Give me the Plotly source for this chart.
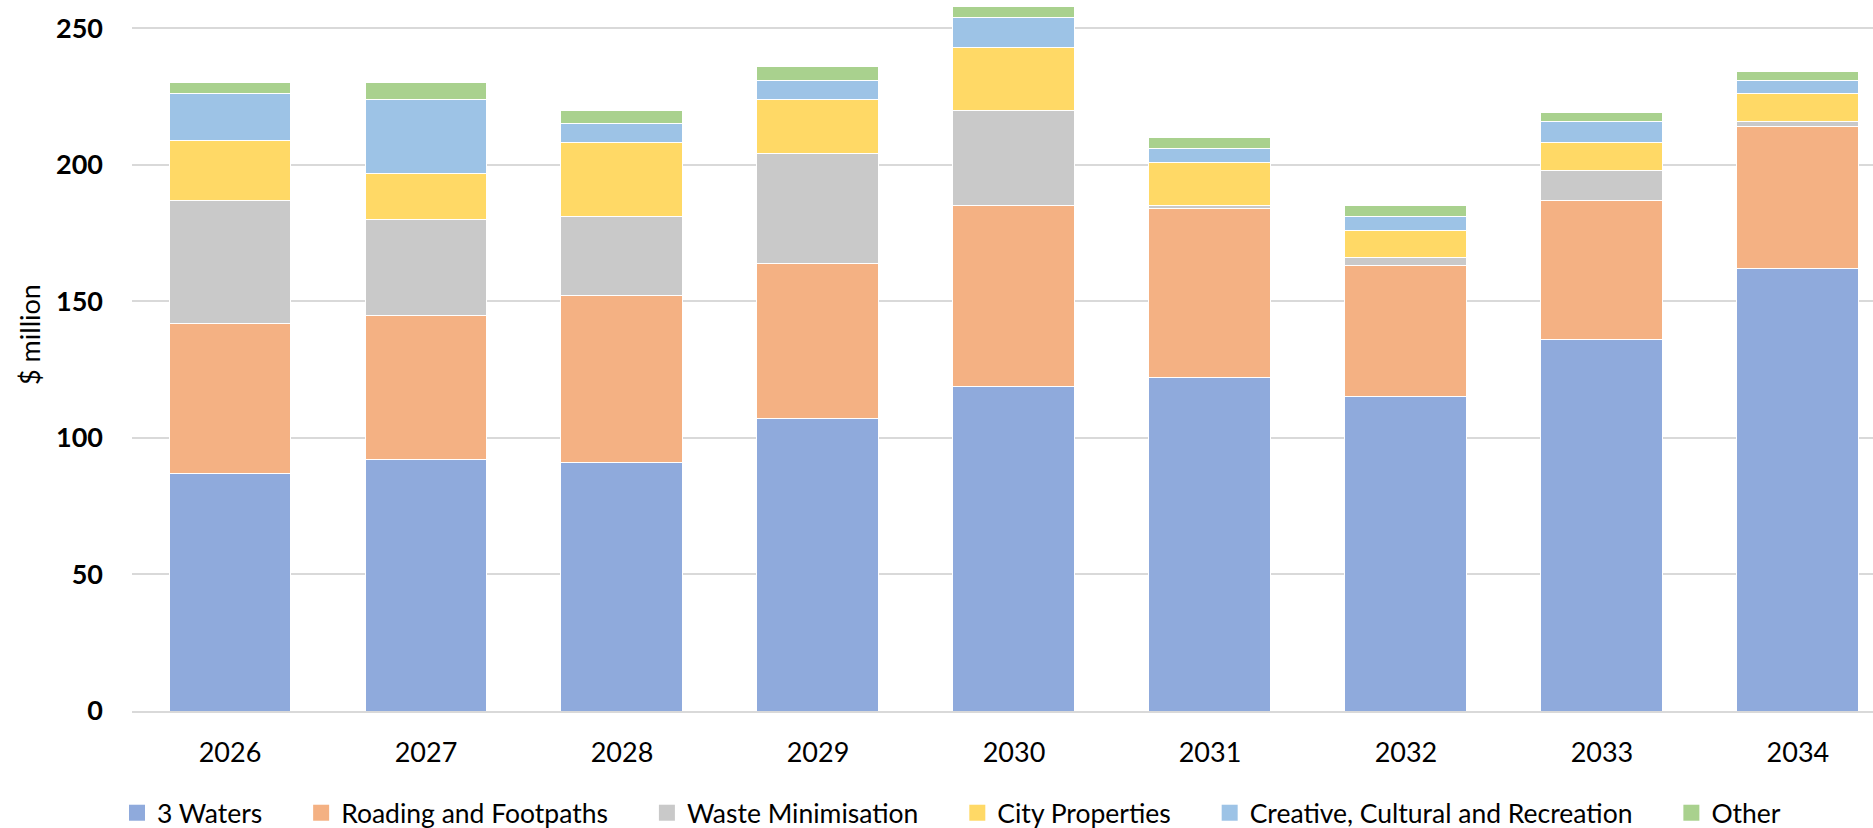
import plotly.graph_objects as go

years = ["2026", "2027", "2028", "2029", "2030", "2031", "2032", "2033", "2034"]

three_waters = [87, 92, 91, 107, 119, 122, 115, 136, 162]
roading_footpaths = [55, 53, 61, 57, 66, 62, 48, 51, 52]
waste_minimisation = [45, 35, 29, 40, 35, 1, 3, 11, 2]
city_properties = [22, 17, 27, 20, 23, 16, 10, 10, 10]
creative_cultural_recreation = [17, 27, 7, 7, 11, 5, 5, 8, 5]
other = [4, 6, 5, 5, 4, 4, 4, 3, 3]

series = [
    ("3 Waters", three_waters, "#8FAADC"),
    ("Roading and Footpaths", roading_footpaths, "#F4B183"),
    ("Waste Minimisation", waste_minimisation, "#C9C9C9"),
    ("City Properties", city_properties, "#FFD966"),
    ("Creative, Cultural and Recreation", creative_cultural_recreation, "#9DC3E6"),
    ("Other", other, "#A9D18E"),
]

FONT = "Lato"
PLOT_W = 1741
PLOT_H = 711
SPACER = "\u00a0" * 5  # extra room after each legend label

fig = go.Figure()
for i, (name, values, color) in enumerate(series):
    fig.add_trace(go.Bar(
        x=years,
        y=values,
        name=name,
        legendgroup=name,
        showlegend=False,
        marker=dict(color=color, line=dict(color="#FFFFFF", width=1)),
    ))
    # square legend key for this series
    label = name if i == len(series) - 1 else name + SPACER
    fig.add_trace(go.Scatter(
        x=[None],
        y=[None],
        mode="markers",
        name=label,
        legendgroup=name,
        marker=dict(symbol="square", size=16, color=color),
        hoverinfo="skip",
    ))

fig.update_layout(
    width=1873,
    height=828,
    barmode="stack",
    bargap=0.3776,
    plot_bgcolor="#FFFFFF",
    paper_bgcolor="#FFFFFF",
    margin=dict(l=132, r=0, t=0, b=117, pad=0, autoexpand=False),
    font=dict(family=FONT, color="#000000"),
    showlegend=True,
    legend=dict(
        orientation="h",
        x=-15 / PLOT_W,
        xanchor="left",
        y=-(813 - PLOT_H) / PLOT_H,
        yanchor="middle",
        font=dict(family=FONT, size=26.5, color="#000000"),
        traceorder="normal",
        itemsizing="trace",
        itemclick=False,
        itemdoubleclick=False,
    ),
    xaxis=dict(
        type="category",
        range=[-0.5, 8.383],
        showgrid=False,
        showline=True,
        linecolor="#D9D9D9",
        linewidth=2,
        ticks="",
        tickfont=dict(family=FONT, size=27, color="#000000"),
        ticklabelstandoff=17,
        zeroline=False,
    ),
    yaxis=dict(
        range=[0, 260.36],
        tickvals=[0, 50, 100, 150, 200, 250],
        showgrid=True,
        gridcolor="#D9D9D9",
        gridwidth=2,
        zeroline=False,
        showline=False,
        ticks="",
        tickfont=dict(family=FONT, size=27, color="#000000", weight="bold"),
        ticklabelstandoff=28,
    ),
    annotations=[
        dict(
            text="$ million",
            textangle=-90,
            xref="paper",
            yref="paper",
            x=-102 / PLOT_W,
            y=(PLOT_H - 335) / PLOT_H,
            xanchor="center",
            yanchor="middle",
            showarrow=False,
            font=dict(family=FONT, size=27, color="#000000"),
        )
    ],
)

fig.write_html("out.html")
